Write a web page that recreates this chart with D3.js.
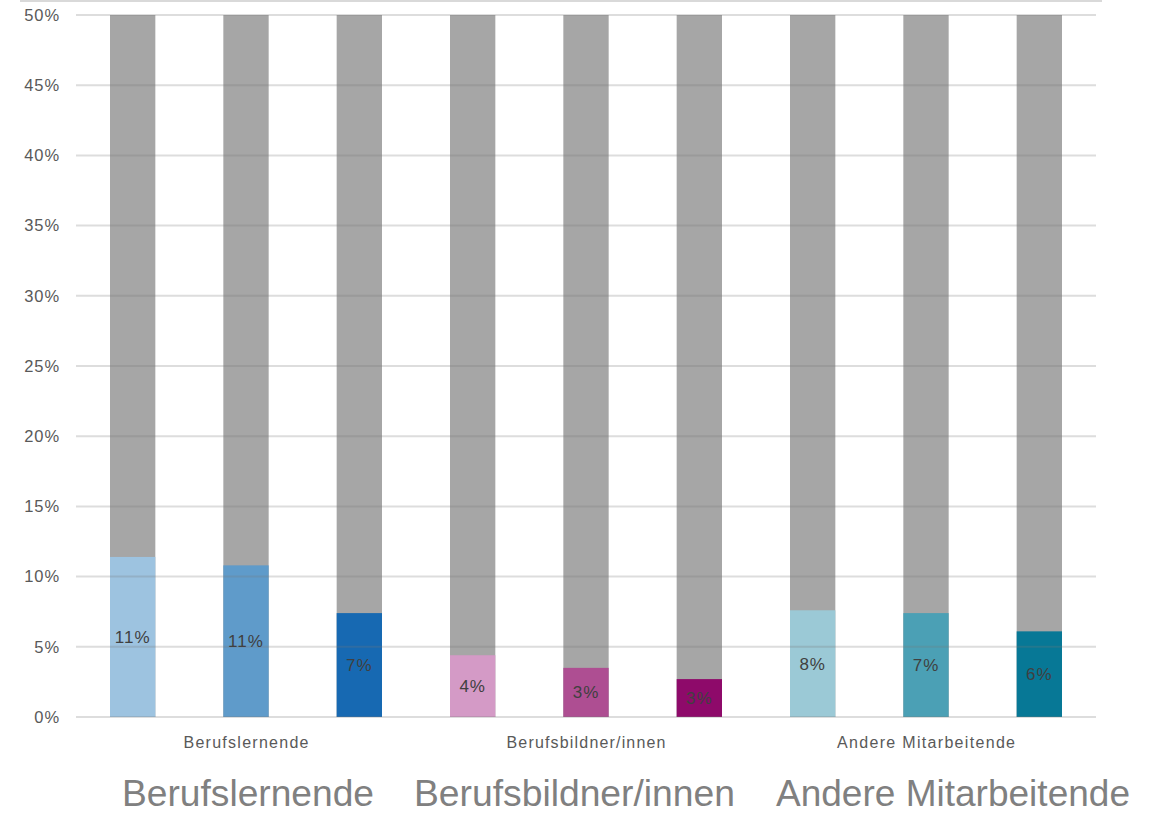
<!DOCTYPE html>
<html>
<head>
<meta charset="utf-8">
<script src="https://cdn.jsdelivr.net/npm/d3@7"></script>
<style>
  body { margin: 0; background: #fff; }
  svg { display: block; font-family: "Liberation Sans", Arial, sans-serif; }
</style>
</head>
<body>
<div id="chart"></div>
<script>
// groups and bars (values in %)
const groups = ["Berufslernende", "Berufsbildner/innen", "Andere Mitarbeitende"];
const barKeys = ["b1", "b2", "b3", "b4", "b5", "b6", "b7", "b8", "b9"];
const barGroup = [0, 0, 0, 1, 1, 1, 2, 2, 2];
const values = [11.4, 10.8, 7.4, 4.4, 3.5, 2.7, 7.6, 7.4, 6.1];
const barLabels = ["11%", "11%", "7%", "4%", "3%", "3%", "8%", "7%", "6%"];
const barColors = ["#9dc3e0", "#5f9bca", "#1769b2", "#d49ac6", "#ae4e92", "#8e0a6a", "#9bc9d6", "#4ba0b5", "#077896"];
const yTicks = [0, 5, 10, 15, 20, 25, 30, 35, 40, 45, 50];
const yMax = 50;

const width = 1160, height = 814;
const margin = {top: 15, right: 64, bottom: 97, left: 76};
const innerW = width - margin.left - margin.right;
const innerH = height - margin.top - margin.bottom;

const svg = d3.select("#chart").append("svg")
    .attr("width", width)
    .attr("height", height);

// thin line along the very top
svg.append("line")
    .attr("x1", 20).attr("x2", 1102)
    .attr("y1", 1).attr("y2", 1)
    .attr("stroke", "#d9d9d9")
    .attr("stroke-width", 2);

const g = svg.append("g")
    .attr("transform", "translate(" + margin.left + "," + margin.top + ")");

const x = d3.scaleBand()
    .domain(barKeys)
    .range([0, innerW])
    .paddingInner(0.6)
    .paddingOuter(0.3);

const y = d3.scaleLinear()
    .domain([0, yMax])
    .range([innerH, 0]);

// gray background bars up to 50%
g.selectAll(".bg")
    .data(barKeys)
    .enter().append("rect")
    .attr("class", "bg")
    .attr("x", d => x(d))
    .attr("width", x.bandwidth())
    .attr("y", y(yMax))
    .attr("height", innerH - y(yMax))
    .attr("fill", "#a6a6a6");

// coloured bars
g.selectAll(".bar")
    .data(barKeys)
    .enter().append("rect")
    .attr("class", "bar")
    .attr("x", d => x(d))
    .attr("width", x.bandwidth())
    .attr("y", (d, i) => y(values[i]))
    .attr("height", (d, i) => innerH - y(values[i]))
    .attr("fill", (d, i) => barColors[i]);

// gridlines on top
g.selectAll(".grid")
    .data(yTicks)
    .enter().append("line")
    .attr("class", "grid")
    .attr("x1", 0).attr("x2", innerW)
    .attr("y1", d => y(d)).attr("y2", d => y(d))
    .attr("stroke", "rgba(120,120,120,0.25)")
    .attr("stroke-width", 2);

// y axis labels
const yAxis = g.append("g")
    .call(d3.axisLeft(y).tickValues(yTicks).tickFormat(d => d + "%").tickSize(0).tickPadding(16));
yAxis.select(".domain").remove();
yAxis.selectAll("text")
    .attr("fill", "#595959")
    .style("font-size", "16.5px")
    .style("letter-spacing", "0.9px");

// value labels inside bars
g.selectAll(".val")
    .data(barKeys)
    .enter().append("text")
    .attr("class", "val")
    .attr("x", d => x(d) + x.bandwidth() / 2)
    .attr("y", (d, i) => (y(values[i]) + innerH) / 2)
    .attr("dy", "0.35em")
    .attr("text-anchor", "middle")
    .attr("fill", "#404040")
    .style("font-size", "17px")
    .style("letter-spacing", "1px")
    .text((d, i) => barLabels[i]);

// group labels under the axis
const smallW = [125, 159, 178];
groups.forEach((name, gi) => {
    const keys = barKeys.filter((k, i) => barGroup[i] === gi);
    const cx = (x(keys[0]) + x(keys[keys.length - 1]) + x.bandwidth()) / 2;
    g.append("text")
        .attr("x", cx - smallW[gi] / 2)
        .attr("y", innerH + 31)
        .attr("fill", "#595959")
        .attr("textLength", smallW[gi])
        .attr("lengthAdjust", "spacing")
        .style("font-size", "16px")
        .text(name);
});

// big labels at the bottom
const bigX = [122, 414, 776];
const bigW = [252, 321, 354];
groups.forEach((name, gi) => {
    svg.append("text")
        .attr("x", bigX[gi])
        .attr("y", 806)
        .attr("fill", "#808080")
        .attr("textLength", bigW[gi])
        .attr("lengthAdjust", "spacingAndGlyphs")
        .style("font-size", "36px")
        .text(name);
});
</script>
</body>
</html>
